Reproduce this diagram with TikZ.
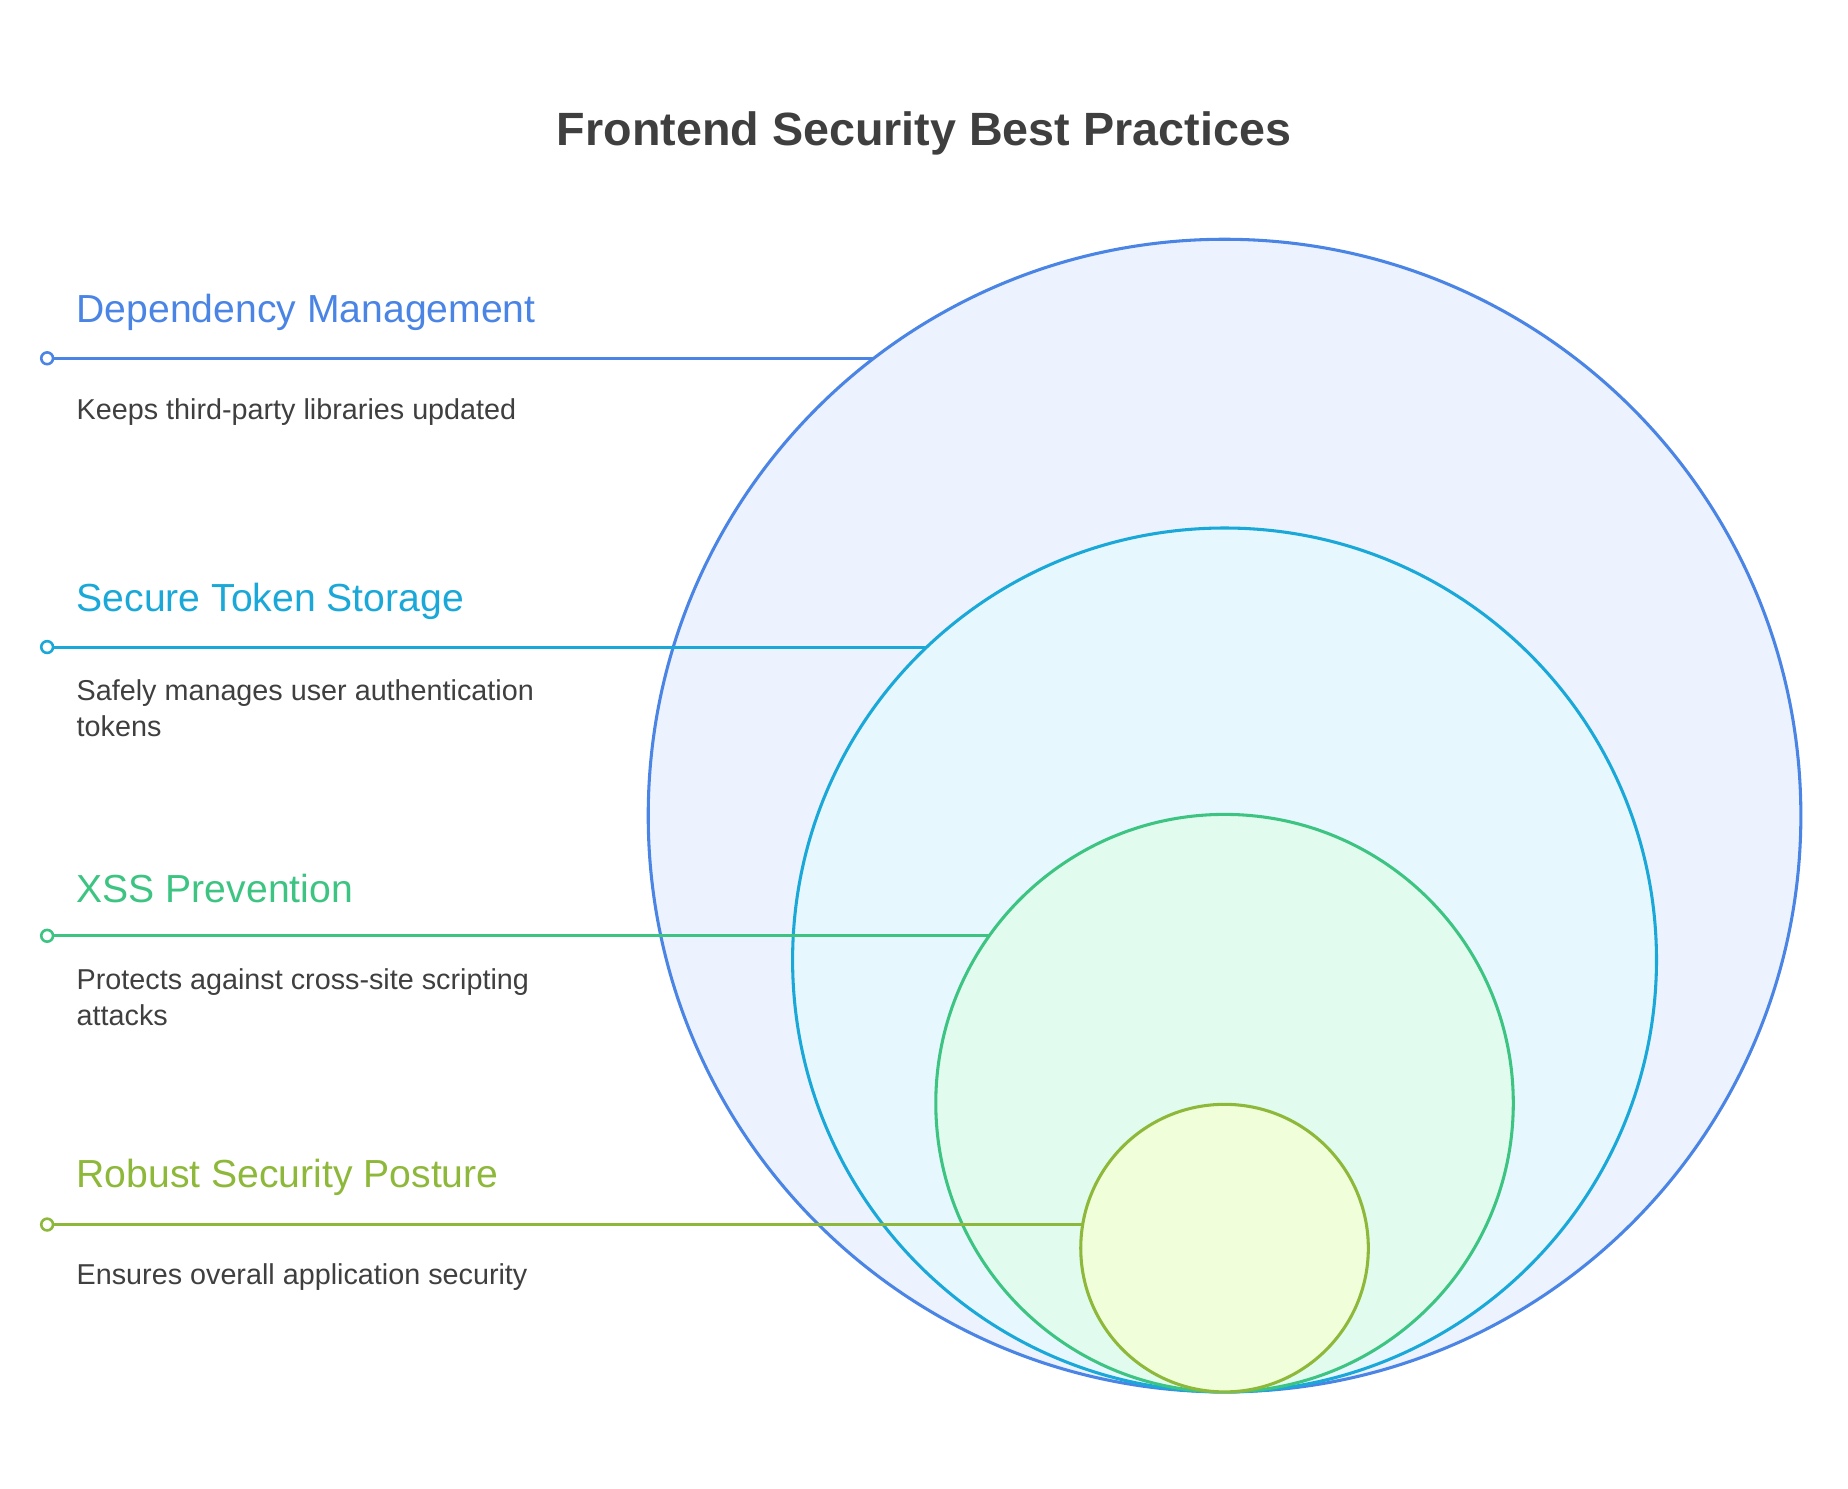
\documentclass[tikz,border=0pt]{standalone}
\usepackage{fontspec}
\setmainfont{Liberation Sans}
\definecolor{cA}{HTML}{4A84E4}\definecolor{fA}{HTML}{ECF2FE}
\definecolor{cB}{HTML}{1AA8D8}\definecolor{fB}{HTML}{E7F7FE}
\definecolor{cC}{HTML}{3DC482}\definecolor{fC}{HTML}{E1FCEE}
\definecolor{cD}{HTML}{8DB83A}\definecolor{fD}{HTML}{F1FEDA}
\definecolor{txt}{HTML}{3F3F3F}
\begin{document}
\begin{tikzpicture}[x=0.5pt,y=-0.5pt,
  ring/.style={circle,draw=#1,line width=1.3pt,inner sep=0pt},
  dotend/.style={circle,draw=#1,fill=white,line width=1.1pt,inner sep=0pt,minimum size=5pt},
  head/.style={anchor=west,font=\fontsize{16.6}{19}\selectfont,text=#1},
  desc/.style={anchor=north west,font=\fontsize{12.2}{15}\selectfont,text=txt,align=left}]
\useasboundingbox (0,0) rectangle (1568,1263);
\node[font=\fontsize{19.8}{23}\selectfont\bfseries,text=txt] (title) at (784,113) {Frontend Security Best Practices};
\node[ring=cA,fill=fA,minimum size=489pt] (c1) at (1039,692) {};
\node[ring=cB,fill=fB,minimum size=366.5pt] (c2) at (1039,814.5) {};
\node[ring=cC,fill=fC,minimum size=245pt] (c3) at (1039,936) {};
\node[ring=cD,fill=fD,minimum size=122pt] (c4) at (1039,1059) {};
\coordinate (e1) at (741,304);
\coordinate (e2) at (786,549);
\coordinate (e3) at (839,794);
\coordinate (e4) at (919,1039);
\node[dotend=cA] (d1) at (40,304) {};
\node[dotend=cB] (d2) at (40,549) {};
\node[dotend=cC] (d3) at (40,794) {};
\node[dotend=cD] (d4) at (40,1039) {};
\draw[cA,line width=1.3pt] (d1) -- (e1);
\draw[cB,line width=1.3pt] (d2) -- (e2);
\draw[cC,line width=1.3pt] (d3) -- (e3);
\draw[cD,line width=1.3pt] (d4) -- (e4);
\node[head=cA] (h1) at (58,265) {Dependency Management};
\node[head=cB] (h2) at (58,510) {Secure Token Storage};
\node[head=cC] (h3) at (58,754) {XSS Prevention};
\node[head=cD] (h4) at (58,999) {Robust Security Posture};
\node[desc] (t1) at (58,331) {Keeps third-party libraries updated};
\node[desc] (t2) at (58,570) {Safely manages user authentication\\tokens};
\node[desc] (t3) at (58,815) {Protects against cross-site scripting\\attacks};
\node[desc] (t4) at (58,1065) {Ensures overall application security};
\end{tikzpicture}
\end{document}
